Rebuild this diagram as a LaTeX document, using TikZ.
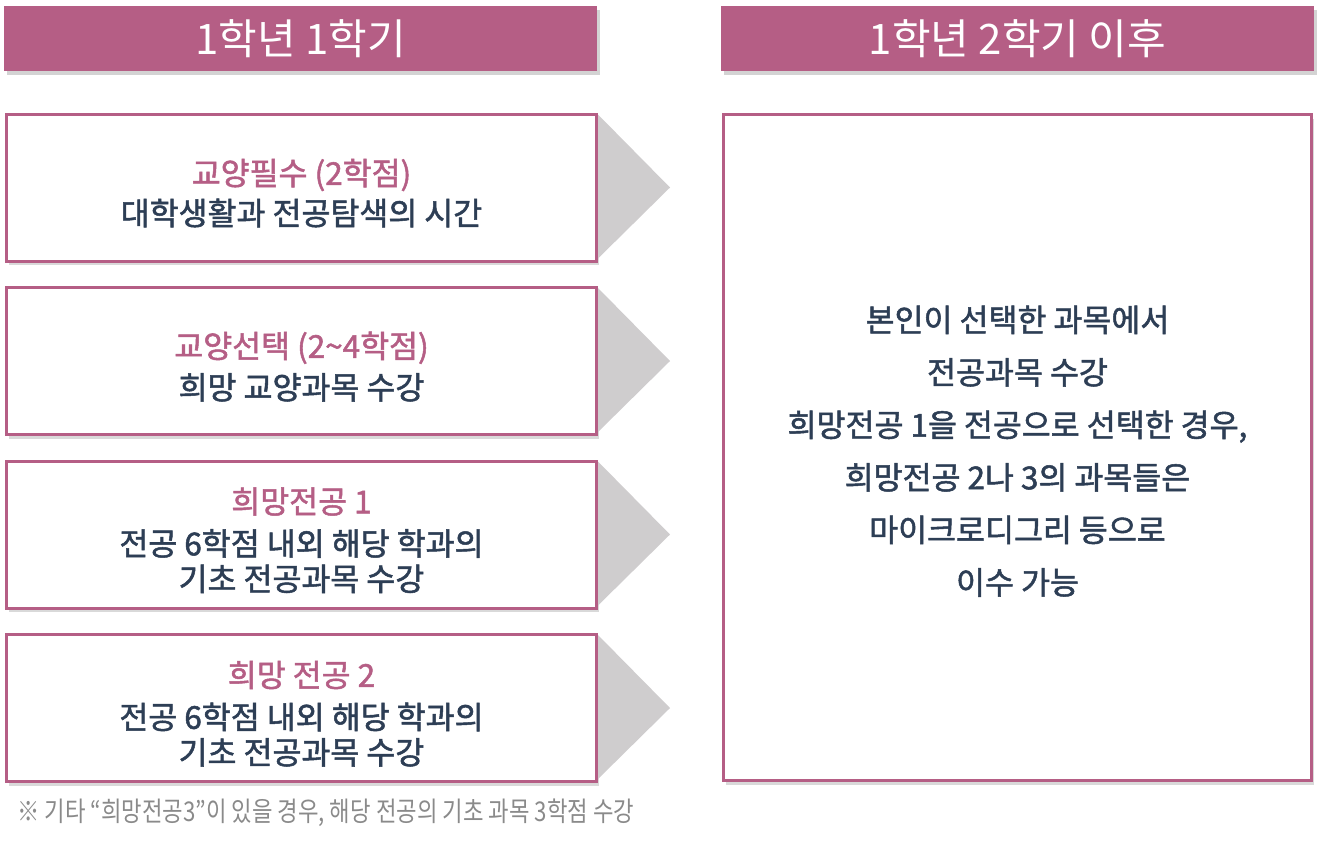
\documentclass[tikz,border=0pt]{standalone}
\usepackage{fontspec}
\setmainfont{Noto Sans CJK KR}
\newfontfamily\midfont[FakeBold=1.6]{Noto Sans CJK KR}
\newfontfamily\notefont[FakeStretch=0.82]{Noto Sans CJK KR}
\usetikzlibrary{shadows}
\definecolor{plum}{HTML}{B55E85}
\definecolor{inkblue}{HTML}{2D3E55}
\definecolor{wedgegray}{HTML}{CFCDCE}
\definecolor{notegray}{HTML}{8A8A8A}
\newcommand\toppad{\rule{0pt}{28pt}}
\tikzset{
  headbar/.style={fill=plum, text=white, minimum width=593*0.75pt, minimum height=65*0.75pt,
    font=\fontsize{31.5}{34}\selectfont, drop shadow={shadow xshift=2pt, shadow yshift=-3pt, opacity=0.35}},
  stagebox/.style={draw=plum, line width=2.25pt, fill=white, align=center, text=inkblue,
    minimum width=590*0.75pt, minimum height=147*0.75pt,
    font=\midfont\fontsize{23.6}{26.5}\selectfont, drop shadow={shadow xshift=2pt, shadow yshift=-3pt, opacity=0.3}},
  wedge/.style={fill=wedgegray},
  boxtitle/.style={text=plum}
}
\begin{document}
\begin{tikzpicture}[x=0.75pt, y=-0.75pt]
  \useasboundingbox (0,0) rectangle (1328,840);
  % headers
  \node[headbar] (head1) at (300.5,38.5) {1학년 1학기};
  \node[headbar] (head2) at (1017.5,38.5) {1학년 2학기 이후};
  % first semester boxes
  \node[stagebox] (req) at (301.5,187.5)
    {\toppad\textcolor{plum}{교양필수 (2학점)}\\[3.5pt] 대학생활과 전공탐색의 시간};
  \node[stagebox] (elec) at (301.5,361)
    {\toppad\textcolor{plum}{교양선택 (2\char"7E 4학점)}\\[4.5pt] 희망 교양과목 수강};
  \node[stagebox] (major1) at (301.5,534.5)
    {\toppad\textcolor{plum}{희망전공 1}\\[5pt] 전공 6학점 내외 해당 학과의\\ 기초 전공과목 수강};
  \node[stagebox] (major2) at (301.5,708)
    {\toppad\textcolor{plum}{희망 전공 2}\\[5pt] 전공 6학점 내외 해당 학과의\\ 기초 전공과목 수강};
  % wedges
  \fill[wedge] ([yshift=-1.5pt]req.north east) -- ([xshift=72*0.75pt]req.east) -- ([yshift=3pt]req.south east) -- cycle;
  \fill[wedge] ([yshift=-1.5pt]elec.north east) -- ([xshift=72*0.75pt]elec.east) -- ([yshift=3pt]elec.south east) -- cycle;
  \fill[wedge] ([yshift=-1.5pt]major1.north east) -- ([xshift=72*0.75pt]major1.east) -- ([yshift=3pt]major1.south east) -- cycle;
  \fill[wedge] ([yshift=-1.5pt]major2.north east) -- ([xshift=72*0.75pt]major2.east) -- ([yshift=3pt]major2.south east) -- cycle;
  % later semesters
  \node[stagebox, minimum width=588*0.75pt, minimum height=666*0.75pt,
    font=\midfont\fontsize{23.6}{39.4}\selectfont] (later) at (1017.5,447.5)
    {\rule{0pt}{25pt}본인이 선택한 과목에서\\ 전공과목 수강\\ 희망전공 1을 전공으로 선택한 경우,\\
     희망전공 2나 3의 과목들은\\ 마이크로디그리 등으로\\ 이수 가능};
  % footnote
  \node[anchor=west, text=notegray, font=\notefont\fontsize{20.4}{22}\selectfont, inner sep=0pt] (note) at (17,813)
    {※ 기타 “희망전공3”이 있을 경우, 해당 전공의 기초 과목 3학점 수강};
\end{tikzpicture}
\end{document}
